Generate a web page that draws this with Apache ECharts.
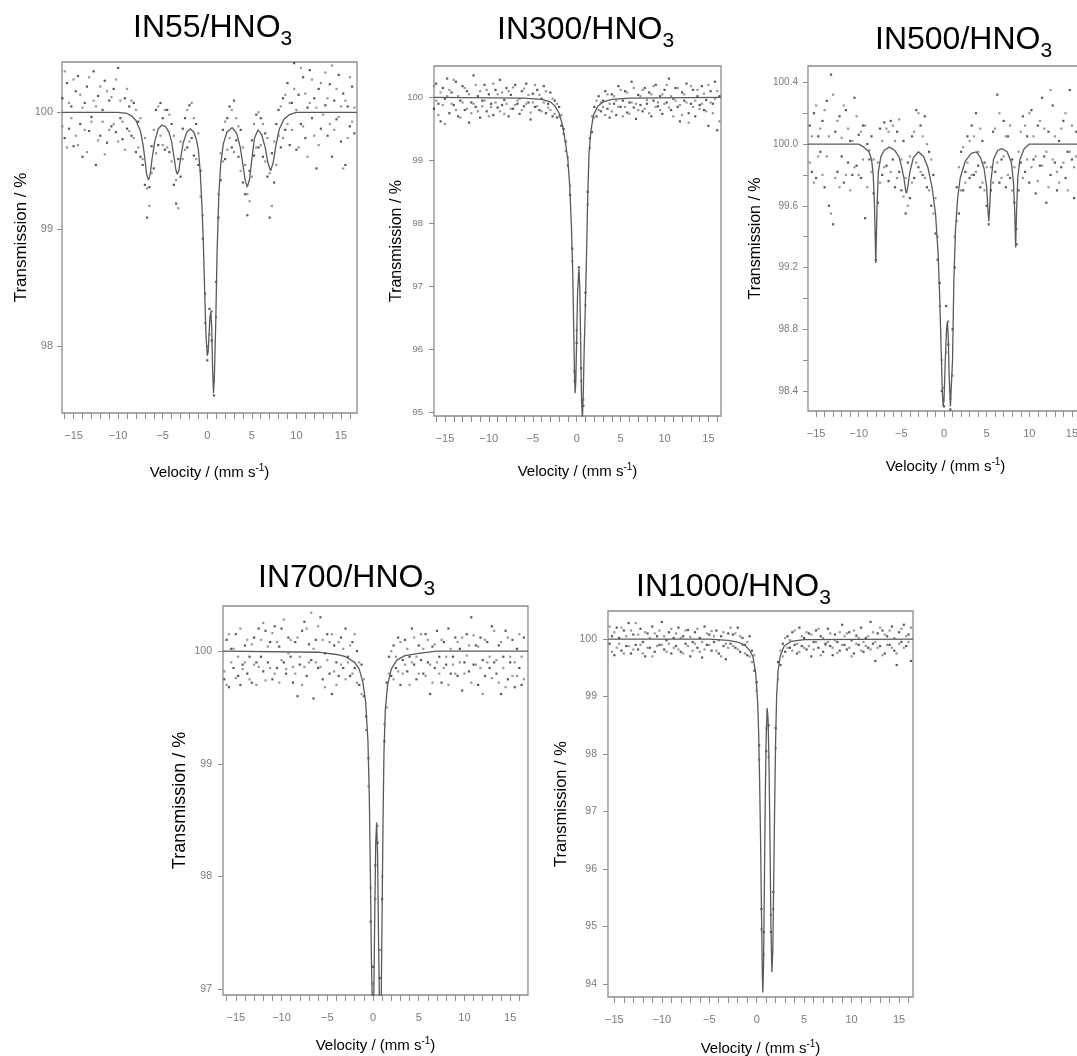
<!DOCTYPE html>
<html>
<head>
<meta charset="utf-8">
<title>Mössbauer spectra</title>
<script src="https://cdn.jsdelivr.net/npm/echarts@6/dist/echarts.min.js"></script>
<style>
  html, body { margin: 0; padding: 0; background: #fff; }
  #chart { width: 1077px; height: 1056px; }
</style>
</head>
<body>
<div id="chart"></div>
<script>
// channel velocities, mm/s
const velocity = [
  -16.5, -16.25, -16, -15.75, -15.5, -15.25, -15, -14.75,
  -14.5, -14.25, -14, -13.75, -13.5, -13.25, -13, -12.75,
  -12.5, -12.25, -12, -11.75, -11.5, -11.25, -11, -10.75,
  -10.5, -10.25, -10, -9.75, -9.5, -9.25, -9, -8.75,
  -8.5, -8.25, -8, -7.75, -7.5, -7.25, -7, -6.75,
  -6.5, -6.25, -6, -5.75, -5.5, -5.25, -5, -4.75,
  -4.5, -4.25, -4, -3.75, -3.5, -3.25, -3, -2.75,
  -2.5, -2.25, -2, -1.75, -1.5, -1.25, -1, -0.75,
  -0.5, -0.25, 0, 0.25, 0.5, 0.75, 1, 1.25,
  1.5, 1.75, 2, 2.25, 2.5, 2.75, 3, 3.25,
  3.5, 3.75, 4, 4.25, 4.5, 4.75, 5, 5.25,
  5.5, 5.75, 6, 6.25, 6.5, 6.75, 7, 7.25,
  7.5, 7.75, 8, 8.25, 8.5, 8.75, 9, 9.25,
  9.5, 9.75, 10, 10.25, 10.5, 10.75, 11, 11.25,
  11.5, 11.75, 12, 12.25, 12.5, 12.75, 13, 13.25,
  13.5, 13.75, 14, 14.25, 14.5, 14.75, 15, 15.25,
  15.5, 15.75, 16, 16.25, 16.5
];

const xTicks = [-16, -15, -14, -13, -12, -11, -10, -9, -8, -7, -6, -5, -4, -3, -2, -1, 0,
  1, 2, 3, 4, 5, 6, 7, 8, 9, 10, 11, 12, 13, 14, 15, 16];
const xLabels = [-15, -10, -5, 0, 5, 10, 15];

// ---- IN55/HNO3 ----
const in55A = [
  99.93, 100.12, 99.78, 100.25, 99.86, 100.05, 99.71, 100.18,
  100.31, 99.9, 99.62, 100.08, 100.22, 99.84, 99.96, 100.35,
  99.55, 100.14, 99.8, 100.02, 100.27, 99.74, 100.1, 99.88,
  100.2, 99.83, 100.38, 99.95, 99.77, 100.12, 99.86, 100.05,
  99.8, 100.08, 99.66, 99.92, 99.62, 99.55, 99.38, 99.1,
  99.36, 99.71, 99.52, 100.02, 99.72, 100.08, 99.95, 99.68,
  100.02, 99.66, 99.9, 99.38, 99.22, 99.6, 99.45, 99.86,
  99.95, 99.7, 100.06, 99.78, 99.63, 99.9, 99.55, 99.5,
  98.92, 98.45, 97.88, 98.32, 98.05, 97.58, 98.55, 99.1,
  99.42, 99.85, 99.6, 99.95, 100.05, 99.7, 100.1, 99.76,
  99.62, 99.85, 99.4, 99.3, 99.12, 99.5, 99.76, 99.63,
  99.98, 99.7, 99.95, 99.62, 99.82, 99.45, 99.1, 99.65,
  99.4, 99.9, 100.02, 99.7, 100.12, 99.85, 100.25, 99.72,
  100.08, 100.42, 99.68, 100.15, 99.9, 100.3, 99.78, 100.04,
  100.36, 99.95, 100.12, 99.52, 100.2, 99.86, 100.44, 100.06,
  99.8, 100.24, 99.62, 100.1, 99.94, 100.32, 99.75, 100.16,
  99.55, 100.05, 99.88, 100.22, 99.82
];
const in55B = [
  100.2, 99.88, 100.35, 99.7, 100.08, 99.95, 100.28, 99.8,
  99.72, 100.15, 100.04, 99.85, 99.66, 100.3, 99.92, 100.1,
  100.05, 99.76, 100.22, 99.92, 99.64, 100.18, 99.85, 100.13,
  99.9, 100.28, 99.75, 100.1, 99.92, 99.68, 100.2, 99.84,
  100.1, 99.78, 100.02, 99.7, 99.95, 99.6, 99.78, 99.35,
  99.2, 99.48, 99.85, 99.65, 100.05, 99.8, 99.72, 100.02,
  99.7, 99.98, 99.58, 99.8, 99.42, 99.18, 99.75, 99.6,
  99.68, 100.02, 99.75, 100.08, 99.95, 99.6, 99.82, 99.28,
  99.12, 98.2, 98.0, 98.1, 98.3, 97.7, 98.25, 99.3,
  99.65, 99.58, 99.92, 99.68, 99.78, 100.02, 99.66, 99.95,
  99.88, 99.5, 99.7, 99.55, 99.3, 99.24, 99.45, 99.9,
  99.7, 100.0, 99.72, 99.9, 99.58, 99.78, 99.48, 99.2,
  99.75, 99.55, 99.8, 100.05, 99.78, 100.15, 99.9, 100.08,
  99.85, 100.2, 100.02, 99.7, 100.38, 99.88, 100.16, 99.62,
  100.08, 100.28, 99.8, 100.04, 99.72, 100.25, 99.98, 100.34,
  100.12, 99.9, 100.4, 99.85, 100.2, 99.96, 100.05, 99.52,
  100.1, 99.78, 100.3, 99.92, 100.04
];
const in55Fit = [
  [-16.3, 100], [-10, 100], [-9, 99.99], [-8.5, 99.97], [-8, 99.93], [-7.5, 99.84], [-7.2, 99.72],
  [-7, 99.6], [-6.8, 99.47], [-6.6, 99.42], [-6.4, 99.47], [-6.2, 99.6], [-5.9, 99.75], [-5.5, 99.86],
  [-5.1, 99.89], [-4.7, 99.88], [-4.3, 99.83], [-4, 99.75], [-3.7, 99.6], [-3.5, 99.5], [-3.35, 99.47],
  [-3.2, 99.5], [-3, 99.6], [-2.7, 99.74], [-2.3, 99.83], [-1.9, 99.86], [-1.5, 99.83], [-1.2, 99.76],
  [-1, 99.68], [-0.8, 99.5], [-0.6, 99.2], [-0.45, 98.9], [-0.3, 98.5], [-0.15, 98.1], [0, 97.92],
  [0.1, 97.95], [0.2, 98.1], [0.3, 98.25], [0.4, 98.3], [0.5, 98.15], [0.6, 97.8], [0.7, 97.6],
  [0.8, 97.75], [0.95, 98.2], [1.1, 98.8], [1.3, 99.3], [1.5, 99.55], [1.8, 99.73], [2.2, 99.83],
  [2.8, 99.87], [3.3, 99.82], [3.7, 99.7], [4, 99.55], [4.25, 99.42], [4.5, 99.36], [4.75, 99.43],
  [5, 99.6], [5.3, 99.78], [5.7, 99.85], [6.1, 99.81], [6.5, 99.7], [6.8, 99.57], [7.1, 99.5],
  [7.4, 99.57], [7.7, 99.72], [8.1, 99.86], [8.6, 99.94], [9.2, 99.98], [10, 100], [16.8, 100]
];
const in55Ticks = [100, 99, 98];

// ---- IN300/HNO3 ----
const in300A = [
  100.05, 99.82, 100.22, 99.9, 99.62, 100.15, 99.98, 100.3,
  99.75, 100.08, 99.88, 100.25, 99.7, 99.95, 100.18, 99.8,
  100.1, 99.6, 99.92, 100.35, 99.85, 100.02, 99.68, 99.95,
  100.2, 99.78, 100.05, 99.9, 99.72, 100.12, 99.84, 100.28,
  99.88, 99.96, 100.15, 99.7, 100.04, 99.82, 100.2, 99.9,
  99.74, 100.1, 99.86, 100.22, 99.92, 99.65, 100.06, 99.85,
  100.12, 99.8, 99.98, 100.18, 99.75, 99.9, 100.08, 99.7,
  99.95, 99.68, 99.85, 99.55, 99.5, 99.3, 98.92, 98.45,
  97.6, 95.65, 96.1, 97.3, 95.7, 95.1, 96.9, 98.5,
  99.35, 99.45, 99.85, 99.7, 100.02, 99.78, 99.95, 100.1,
  99.82, 99.68, 100.05, 99.9, 99.72, 100.18, 99.85, 99.95,
  100.1, 99.76, 99.92, 100.25, 99.84, 99.66, 100.04, 99.88,
  99.78, 100.15, 99.9, 100.08, 99.7, 99.95, 100.2, 99.86,
  100.02, 99.74, 100.12, 99.92, 100.3, 99.8, 99.98, 100.15,
  99.85, 99.62, 100.08, 99.95, 100.22, 99.75, 99.9, 100.12,
  99.7, 100.02, 99.88, 100.18, 99.8, 99.96, 99.55, 100.1,
  99.9, 100.25, 99.48, 100.02, 99.85
];
const in300B = [
  99.85, 100.18, 99.95, 99.72, 100.08, 99.88, 99.58, 100.02,
  100.12, 99.9, 100.28, 99.8, 100.02, 99.68, 99.92, 100.15,
  99.82, 100.05, 99.75, 99.9, 100.2, 99.78, 100.1, 99.86,
  99.95, 100.12, 99.7, 99.85, 100.22, 99.92, 100.05, 99.78,
  100.08, 99.74, 99.9, 100.1, 99.82, 100.16, 99.88, 99.95,
  99.98, 99.8, 100.14, 99.9, 100.04, 99.76, 99.92, 100.2,
  99.86, 100.04, 99.78, 99.92, 100.1, 99.84, 99.8, 99.98,
  99.74, 99.9, 99.7, 99.72, 99.42, 99.15, 99.05, 98.6,
  97.4, 95.5, 96.3, 97.2, 95.5, 95.2, 96.7, 98.3,
  99.2, 99.7, 99.68, 99.95, 99.8, 99.92, 99.85, 99.72,
  100.05, 99.9, 99.78, 100.02, 99.95, 99.85, 100.12, 99.7,
  99.85, 100.08, 99.74, 99.92, 100.15, 99.9, 99.8, 100.02,
  100.12, 99.82, 99.96, 99.75, 100.05, 100.18, 99.85, 99.92,
  99.8, 100.05, 99.9, 100.2, 99.84, 100.02, 99.7, 99.95,
  100.15, 99.88, 99.72, 100.05, 99.92, 99.6, 100.18, 99.85,
  99.95, 100.12, 99.82, 99.9, 100.06, 99.78, 100.2, 99.92,
  99.75, 99.98, 100.1, 99.62, 100.05
];
const in300Fit = [
  [-16.25, 100], [-6, 99.99], [-4, 99.97], [-3, 99.93], [-2.5, 99.87], [-2, 99.75], [-1.6, 99.55],
  [-1.3, 99.3], [-1, 99], [-0.8, 98.6], [-0.6, 97.95], [-0.45, 97.2], [-0.35, 96.4], [-0.25, 95.6],
  [-0.18, 95.3], [-0.1, 95.5], [0, 96.2], [0.1, 96.9], [0.25, 97.28], [0.35, 97], [0.45, 96.1],
  [0.55, 95.2], [0.65, 94.9], [0.75, 95.3], [0.85, 96], [0.95, 96.5], [1.05, 97.1], [1.15, 97.7],
  [1.25, 98.4], [1.4, 99.1], [1.6, 99.45], [1.9, 99.72], [2.4, 99.86], [3, 99.93], [4, 99.97],
  [6, 99.99], [16.43, 100]
];
const in300Ticks = [100, 99, 98, 97, 96, 95];

// ---- IN500/HNO3 ----
const in500A = [
  100.1, 99.85, 99.9, 100.12, 99.82, 100.2, 99.78, 100.05,
  99.95, 100.15, 99.72, 100.28, 99.6, 100.45, 99.48, 100.08,
  99.82, 100.18, 99.92, 99.75, 100.22, 99.88, 100.02, 99.8,
  100.3, 99.86, 100.06, 99.78, 100.12, 99.52, 100.0, 99.9,
  100.05, 99.68, 99.25, 99.62, 100.1, 99.8, 100.14, 99.86,
  99.76, 100.15, 99.9, 99.72, 100.08, 99.82, 99.7, 100.02,
  99.55, 99.88, 99.65, 100.05, 99.78, 100.22, 99.85, 100.12,
  99.8, 100.18, 99.72, 99.95, 99.6, 99.8, 99.42, 99.25,
  99.1, 98.4, 98.3, 98.95, 98.7, 98.28, 98.8, 99.2,
  99.72, 99.55, 99.95, 99.7, 99.82, 100.05, 99.78, 100.12,
  99.8, 100.2, 99.86, 99.72, 100.02, 99.88, 99.6, 99.48,
  99.7, 100.08, 99.82, 100.32, 99.75, 99.9, 100.15, 99.72,
  100.05, 99.78, 99.9, 99.62, 99.35, 99.7, 99.88, 100.18,
  99.82, 100.05, 99.75, 100.22, 99.9, 99.68, 100.12, 99.86,
  100.3, 99.92, 99.62, 100.08, 99.8, 100.25, 99.88, 99.7,
  100.02, 99.85, 100.15, 99.78, 99.95, 100.35, 99.9, 99.65,
  100.08, 99.8, 99.95, 100.18, 99.72
];
const in500B = [
  99.78, 100.2, 100.15, 99.88, 100.05, 99.75, 100.25, 99.92,
  100.1, 99.8, 100.22, 99.92, 100.05, 99.55, 100.32, 99.78,
  100.15, 99.72, 100.04, 100.25, 99.8, 100.1, 99.7, 100.02,
  99.85, 100.18, 99.8, 100.08, 99.9, 100.12, 99.72, 99.96,
  99.82, 99.9, 99.42, 99.88, 99.75, 100.02, 99.85, 100.1,
  100.08, 99.82, 100.12, 100.02, 99.78, 100.16, 99.9, 99.66,
  99.78, 99.6, 99.92, 99.75, 100.08, 99.88, 100.2, 99.82,
  100.05, 99.78, 100.0, 99.7, 99.9, 99.55, 99.65, 99.4,
  98.95, 98.6, 98.42, 98.65, 98.85, 98.35, 98.5, 99.4,
  99.5, 99.85, 99.7, 99.98, 99.75, 99.88, 100.02, 99.8,
  100.05, 99.82, 99.95, 100.1, 99.75, 99.7, 99.85, 99.55,
  99.85, 99.75, 100.1, 99.88, 100.2, 99.78, 99.92, 100.05,
  99.8, 100.12, 99.7, 99.85, 99.45, 99.95, 100.08, 99.78,
  100.12, 99.9, 100.2, 99.85, 100.05, 99.92, 99.76, 100.15,
  99.86, 100.1, 99.95, 99.72, 100.35, 99.9, 100.05, 99.82,
  99.75, 100.1, 99.88, 100.2, 99.7, 99.95, 100.12, 99.85,
  99.92, 100.15, 99.78, 99.9, 100.05
];
const in500Fit = [
  [-16, 100], [-10, 100], [-9.4, 99.98], [-8.8, 99.95], [-8.5, 99.9], [-8.3, 99.8], [-8.15, 99.6],
  [-8, 99.23], [-7.85, 99.6], [-7.7, 99.82], [-7.4, 99.92], [-7, 99.96], [-6.4, 99.98], [-5.8, 99.96],
  [-5.3, 99.92], [-5, 99.86], [-4.7, 99.78], [-4.5, 99.7], [-4.4, 99.68], [-4.25, 99.72], [-4, 99.82],
  [-3.6, 99.91], [-3, 99.95], [-2.4, 99.92], [-1.9, 99.85], [-1.4, 99.72], [-1, 99.55], [-0.7, 99.3],
  [-0.5, 99], [-0.35, 98.7], [-0.2, 98.4], [-0.1, 98.3], [0, 98.34], [0.15, 98.6], [0.3, 98.8],
  [0.4, 98.85], [0.5, 98.75], [0.6, 98.5], [0.75, 98.3], [0.85, 98.3], [1, 98.6], [1.15, 99.1],
  [1.35, 99.45], [1.6, 99.65], [1.9, 99.78], [2.5, 99.89], [3.2, 99.94], [3.8, 99.95], [4.3, 99.91],
  [4.7, 99.84], [5, 99.72], [5.15, 99.58], [5.25, 99.5], [5.35, 99.58], [5.5, 99.76], [5.8, 99.9],
  [6.3, 99.96], [6.8, 99.97], [7.4, 99.95], [7.9, 99.88], [8.15, 99.75], [8.3, 99.55], [8.4, 99.33],
  [8.5, 99.55], [8.65, 99.78], [8.9, 99.9], [9.4, 99.97], [10, 100], [16.4, 100]
];
const in500Ticks = [100.4, 100.2, 100.0, 99.8, 99.6, 99.4, 99.2, 99.0, 98.8, 98.6, 98.4];
const in500Labels = [100.4, 100.0, 99.6, 99.2, 98.8, 98.4];

// ---- IN700/HNO3 ----
const in700A = [
  99.92, 99.75, 100.1, 99.68, 100.02, 99.85, 100.15, 99.78,
  99.7, 99.88, 100.05, 99.8, 99.95, 99.72, 100.12, 99.9,
  100.2, 99.95, 99.82, 100.18, 99.9, 100.08, 99.75, 100.22,
  99.85, 100.04, 100.2, 99.9, 99.8, 100.12, 99.95, 99.72,
  100.08, 99.6, 99.88, 100.18, 100.26, 99.78, 100.06, 99.92,
  99.58, 100.1, 99.85, 100.3, 99.75, 99.98, 100.15, 99.8,
  99.62, 100.05, 99.9, 99.78, 100.12, 99.85, 100.2, 99.95,
  99.78, 100.08, 99.85, 100.0, 99.7, 99.88, 99.6, 99.42,
  99.05, 97.6, 97.2, 98.1, 98.3, 97.1, 97.8, 99.2,
  99.72, 99.95, 99.78, 100.05, 99.85, 100.12, 99.7, 99.92,
  100.1, 99.82, 99.95, 100.2, 99.88, 99.75, 100.05, 99.92,
  99.8, 100.15, 99.9, 99.62, 100.04, 99.85, 100.18, 99.95,
  99.72, 100.08, 99.88, 100.2, 99.8, 99.95, 100.12, 99.78,
  100.02, 99.65, 99.9, 100.15, 99.82, 100.3, 99.88, 100.05,
  99.7, 100.12, 99.92, 99.78, 100.08, 99.85, 100.22, 99.9,
  99.8, 100.05, 99.62, 99.95, 100.18, 99.75, 99.9, 100.1,
  99.68, 100.02, 99.85, 99.7, 100.12
];
const in700B = [
  100.05, 99.82, 99.7, 100.15, 99.9, 100.02, 99.76, 99.95,
  100.2, 99.84, 99.9, 100.1, 99.75, 100.06, 99.88, 99.7,
  99.86, 100.1, 100.25, 99.74, 100.04, 99.85, 100.16, 99.8,
  100.08, 99.72, 99.92, 100.28, 99.84, 99.98, 100.1, 99.86,
  99.8, 100.12, 99.95, 99.7, 99.86, 100.2, 99.9, 100.34,
  100.02, 99.9, 100.22, 99.86, 100.1, 99.68, 99.92, 100.08,
  100.15, 99.82, 99.7, 100.08, 99.88, 100.02, 99.75, 99.9,
  100.05, 99.8, 100.15, 99.72, 99.9, 99.62, 99.75, 99.3,
  98.8, 97.9, 97.05, 97.8, 98.45, 97.35, 98.0, 99.35,
  99.5, 99.8, 100.0, 99.75, 99.95, 99.82, 100.08, 99.8,
  99.88, 100.02, 99.7, 99.9, 100.12, 99.95, 99.8, 100.15,
  100.02, 99.78, 100.1, 99.88, 99.72, 100.06, 99.9, 99.8,
  100.1, 99.85, 99.95, 99.7, 100.02, 99.88, 99.8, 100.08,
  99.9, 100.12, 99.8, 99.96, 100.05, 99.72, 100.14, 99.88,
  100.04, 99.85, 99.62, 100.1, 99.9, 99.95, 99.76, 100.18,
  99.92, 99.72, 100.08, 99.85, 99.68, 100.12, 99.95, 99.78,
  99.9, 99.78, 100.15, 99.95, 99.75
];
const in700Fit = [
  [-16.4, 100], [-6, 99.99], [-4, 99.97], [-3, 99.95], [-2, 99.9], [-1.5, 99.84], [-1.1, 99.72],
  [-0.8, 99.55], [-0.55, 99.2], [-0.4, 98.7], [-0.28, 98], [-0.18, 97.3], [-0.08, 96.9], [0, 96.7],
  [0.1, 97], [0.2, 97.7], [0.3, 98.3], [0.4, 98.48], [0.5, 98.2], [0.6, 97.5], [0.7, 96.9],
  [0.8, 96.6], [0.9, 96.9], [1, 97.7], [1.1, 98.5], [1.2, 99.1], [1.35, 99.48], [1.6, 99.7],
  [2, 99.84], [2.6, 99.92], [3.5, 99.96], [5, 99.98], [7, 100], [16.95, 100]
];
const in700Ticks = [100, 99, 98, 97];

// ---- IN1000/HNO3 ----
const in1000A = [
  99.9, 100.1, 99.85, 100.25, 99.92, 100.05, 99.72, 100.2,
  100.02, 99.8, 100.15, 99.88, 100.28, 99.75, 100.08, 99.9,
  99.82, 100.18, 99.95, 99.7, 100.1, 99.85, 100.22, 99.78,
  100.05, 99.9, 100.3, 99.82, 99.98, 100.12, 99.75, 100.02,
  99.88, 100.2, 99.78, 100.05, 99.92, 100.16, 99.7, 99.95,
  100.12, 99.85, 100.02, 99.68, 100.22, 99.9, 100.08, 99.8,
  99.95, 100.15, 99.75, 100.05, 99.88, 99.65, 100.1, 99.92,
  100.08, 99.85, 100.2, 99.78, 100.02, 99.9, 99.72, 100.05,
  99.8, 99.45, 99.25, 98.15, 95.3, 94.9, 98.05, 98.5,
  94.9, 95.6, 98.45, 99.6, 99.55, 99.92, 99.78, 100.05,
  99.85, 100.12, 99.9, 99.75, 100.2, 99.88, 100.02, 99.82,
  100.1, 99.7, 99.95, 100.15, 99.85, 100.05, 99.78, 99.92,
  100.18, 99.88, 99.72, 100.08, 99.95, 99.8, 100.25, 99.9,
  99.82, 100.12, 99.98, 99.75, 100.06, 99.9, 100.2, 99.78,
  100.02, 99.85, 100.3, 99.92, 99.62, 100.1, 99.88, 100.15,
  99.75, 100.05, 99.9, 100.22, 99.8, 99.55, 100.12, 99.95,
  100.25, 99.88, 100.08, 99.62, 100.1
];
const in1000B = [
  100.15, 99.8, 100.05, 99.9, 100.22, 99.78, 100.12, 99.85,
  99.92, 100.2, 99.75, 100.05, 99.88, 100.15, 99.82, 100.28,
  100.08, 99.9, 99.75, 100.12, 99.85, 100.02, 99.7, 100.1,
  99.88, 100.15, 99.9, 100.05, 99.78, 99.92, 100.18, 99.85,
  100.1, 99.82, 100.02, 99.75, 100.15, 99.88, 100.04, 99.8,
  99.92, 100.18, 99.78, 99.95, 99.82, 100.1, 99.9, 100.14,
  100.05, 99.8, 99.98, 99.7, 100.12, 99.92, 99.85, 100.2,
  99.88, 100.1, 99.82, 100.05, 99.9, 99.75, 99.95, 99.7,
  99.6, 99.72, 99.1, 97.9, 94.95, 94.5, 98.45, 97.95,
  95.2, 95.3, 98.1, 99.3, 99.8, 99.7, 100.02, 99.85,
  99.98, 99.8, 100.15, 99.92, 99.78, 100.05, 99.85, 100.12,
  99.88, 100.08, 99.82, 99.95, 100.18, 99.72, 100.02, 99.9,
  99.95, 100.1, 99.85, 99.98, 99.76, 100.12, 99.9, 100.05,
  100.1, 99.85, 99.7, 100.15, 99.92, 100.02, 99.8, 99.95,
  99.88, 100.05, 99.82, 100.12, 99.95, 99.85, 100.2, 99.72,
  100.08, 99.9, 100.15, 99.85, 100.02, 99.75, 99.92, 100.18,
  99.85, 100.05, 99.95, 100.2, 99.82
];
const in1000Fit = [
  [-15.67, 100], [-5, 100], [-3, 99.98], [-2, 99.95], [-1.3, 99.9], [-0.8, 99.82], [-0.4, 99.7],
  [-0.1, 99.4], [0.1, 98.9], [0.2, 98.4], [0.3, 97.6], [0.4, 96.6], [0.5, 95.3], [0.6, 94.1],
  [0.65, 93.85], [0.72, 94.3], [0.8, 95.6], [0.9, 97.2], [1, 98.3], [1.1, 98.8], [1.2, 98.6],
  [1.3, 97.8], [1.4, 96.5], [1.5, 95], [1.6, 94.2], [1.7, 94.6], [1.8, 95.9], [1.9, 97.2],
  [2, 98.3], [2.1, 99], [2.25, 99.45], [2.5, 99.72], [2.9, 99.88], [3.6, 99.96], [5, 99.99],
  [16.47, 100]
];
const in1000Ticks = [100, 99, 98, 97, 96, 95, 94];

// ---- layout ----
const FONT = '"Liberation Sans", Arial, Helvetica, sans-serif';

const panels = [
  { label: 'IN55', a: in55A, b: in55B, fit: in55Fit, yTicks: in55Ticks, yLabels: in55Ticks, yDigits: 0,
    grid: { left: 62, top: 62, width: 295, height: 351 }, x: [-16.3, 16.8], y: [97.43, 100.43],
    title: { left: 133, top: 12 }, yNameGap: 32, yNameSize: 17, yLabelSize: 11, yLabelMargin: 9, xNameGap: 50 },
  { label: 'IN300', a: in300A, b: in300B, fit: in300Fit, yTicks: in300Ticks, yLabels: in300Ticks, yDigits: 0,
    grid: { left: 434, top: 66, width: 287, height: 350 }, x: [-16.25, 16.43], y: [94.94, 100.5],
    title: { left: 497, top: 14 }, yNameGap: 29, yNameSize: 16, yLabelSize: 9.5, yLabelMargin: 11, xNameGap: 46 },
  { label: 'IN500', a: in500A, b: in500B, fit: in500Fit, yTicks: in500Ticks, yLabels: in500Labels, yDigits: 1,
    grid: { left: 808, top: 66, width: 275, height: 345 }, x: [-15.95, 16.3], y: [98.27, 100.506],
    title: { left: 875, top: 24 }, yNameGap: 44, yNameSize: 16, yLabelSize: 10, yLabelMargin: 10, xNameGap: 46 },
  { label: 'IN700', a: in700A, b: in700B, fit: in700Fit, yTicks: in700Ticks, yLabels: in700Ticks, yDigits: 0,
    grid: { left: 223, top: 606, width: 305, height: 389 }, x: [-16.4, 16.95], y: [96.95, 100.4],
    title: { left: 258, top: 562 }, yNameGap: 34, yNameSize: 18, yLabelSize: 10.5, yLabelMargin: 11, xNameGap: 41 },
  { label: 'IN1000', a: in1000A, b: in1000B, fit: in1000Fit, yTicks: in1000Ticks, yLabels: in1000Ticks, yDigits: 0,
    grid: { left: 608, top: 611, width: 305, height: 386 }, x: [-15.67, 16.47], y: [93.77, 100.49],
    title: { left: 636, top: 571 }, yNameGap: 38, yNameSize: 16.5, yLabelSize: 10.5, yLabelMargin: 11, xNameGap: 42 }
];

const fmtX = v => (v < 0 ? '\u2212' + (-v) : String(v));

const chart = echarts.init(document.getElementById('chart'), null, { renderer: 'canvas' });

const option = {
  animation: false,
  backgroundColor: '#fff',
  title: panels.map(p => ({
    text: '{m|' + p.label + '/HNO}{s|3}',
    left: p.title.left,
    top: p.title.top,
    padding: 0,
    textStyle: {
      fontWeight: 'normal',
      rich: {
        m: { fontSize: 32, fontWeight: 'normal', fontFamily: FONT, color: '#000', lineHeight: 36, verticalAlign: 'top' },
        s: { fontSize: 21, fontWeight: 'normal', fontFamily: FONT, color: '#000', lineHeight: 21, padding: [17, 0, 0, 0], verticalAlign: 'top' }
      }
    }
  })),
  grid: panels.map(p => ({
    left: p.grid.left, top: p.grid.top, width: p.grid.width, height: p.grid.height,
    show: true, borderColor: '#8c8c8c', borderWidth: 1.3, backgroundColor: 'transparent',
    containLabel: false, outerBoundsMode: 'none'
  })),
  xAxis: panels.map((p, i) => ({
    gridIndex: i, type: 'value', min: p.x[0], max: p.x[1], position: 'bottom',
    axisLine: { show: false, onZero: false },
    splitLine: { show: false },
    axisTick: {
      show: true, inside: false, length: 6,
      customValues: xTicks.filter(v => v >= p.x[0] && v <= p.x[1]),
      lineStyle: { color: '#8c8c8c', width: 1 }
    },
    axisLabel: {
      customValues: xLabels, formatter: fmtX,
      color: '#7a7a7a', fontSize: 11, fontFamily: FONT, margin: 17
    },
    name: '{m|Velocity / (mm s}{u|-1}{m|)}',
    nameLocation: 'middle', nameGap: p.xNameGap, nameMoveOverlap: false,
    nameTextStyle: {
      rich: {
        m: { fontSize: 15, fontFamily: FONT, color: '#000', lineHeight: 20 },
        u: { fontSize: 10, fontFamily: FONT, color: '#000', lineHeight: 10, verticalAlign: 'top' }
      }
    }
  })),
  yAxis: panels.map((p, i) => ({
    gridIndex: i, type: 'value', min: p.y[0], max: p.y[1], position: 'left',
    axisLine: { show: false, onZero: false },
    splitLine: { show: false },
    axisTick: {
      show: true, inside: false, length: 5,
      customValues: p.yTicks,
      lineStyle: { color: '#8c8c8c', width: 1 }
    },
    axisLabel: {
      customValues: p.yLabels, formatter: v => Number(v).toFixed(p.yDigits),
      color: '#7a7a7a', fontSize: p.yLabelSize, fontFamily: FONT, margin: p.yLabelMargin
    },
    name: 'Transmission / %',
    nameLocation: 'middle', nameGap: p.yNameGap, nameMoveOverlap: false,
    nameTextStyle: { fontSize: p.yNameSize, fontFamily: FONT, color: '#000' }
  })),
  series: panels.flatMap((p, i) => [
    {
      type: 'scatter', xAxisIndex: i, yAxisIndex: i, silent: true,
      symbol: 'rect', symbolSize: 2.2,
      itemStyle: { color: '#2e2e2e' },
      data: velocity.map((v, k) => [v, p.a[k]])
    },
    {
      type: 'scatter', xAxisIndex: i, yAxisIndex: i, silent: true,
      symbol: 'rect', symbolSize: 2.2,
      itemStyle: { color: '#7c7c7c' },
      data: velocity.map((v, k) => [v, p.b[k]])
    },
    {
      type: 'line', xAxisIndex: i, yAxisIndex: i, silent: true,
      showSymbol: false, symbol: 'none', clip: true,
      lineStyle: { color: '#5a5a5a', width: 1.3 },
      data: p.fit
    }
  ])
};

chart.setOption(option);
</script>
</body>
</html>
